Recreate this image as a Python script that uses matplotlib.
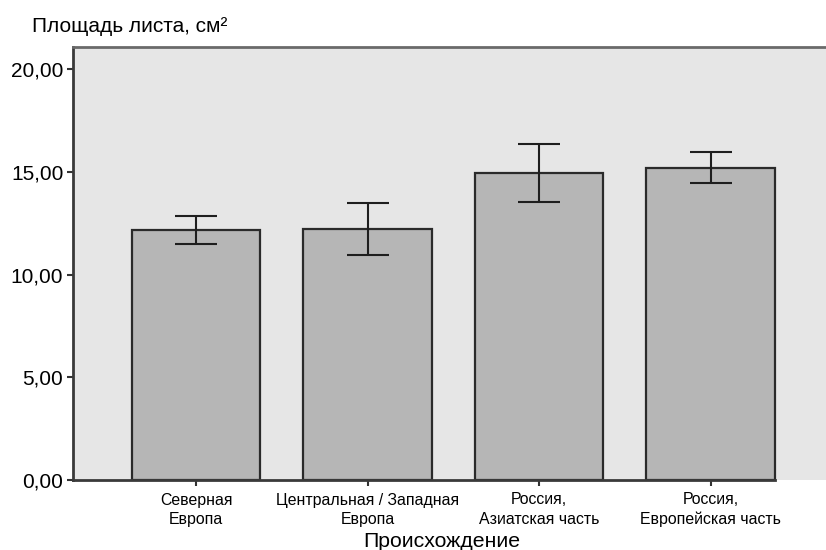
import matplotlib
matplotlib.use("Agg")
import matplotlib.pyplot as plt

plt.rcParams['font.family'] = ['Liberation Sans', 'DejaVu Sans']

categories = ["Северная\nЕвропа", "Центральная / Западная\nЕвропа",
              "Россия,\nАзиатская часть", "Россия,\nЕвропейская часть"]
means = [12.16, 12.21, 14.95, 15.21]
err_low = [11.48, 10.94, 13.54, 14.46]
err_high = [12.85, 13.47, 16.35, 15.97]
yticks = [0, 5, 10, 15, 20]
ytick_labels = ["0,00", "5,00", "10,00", "15,00", "20,00"]

W, H = 826, 550
fig = plt.figure(figsize=(W / 100, H / 100), dpi=100)
ax = fig.add_axes([73 / W, 1 - 480 / H, (W - 73) / W + 0.01, (480 - 47) / H])
ax.set_facecolor("#e6e6e6")

x = list(range(len(categories)))
yerr = [[m - lo for m, lo in zip(means, err_low)],
        [hi - m for m, hi in zip(means, err_high)]]
ax.bar(x, means, width=0.75, color="#b6b6b6", edgecolor="#2a2a2a",
       linewidth=1.6, zorder=2)
ax.errorbar(x, means, yerr=yerr, fmt="none", ecolor="#1e1e1e",
            elinewidth=1.5, capsize=15, capthick=1.5, zorder=3)

ax.set_xlim(-0.717, 3.72)
ax.set_ylim(0, 21.08)
ax.set_yticks(yticks)
ax.set_yticklabels(ytick_labels, fontsize=15)
ax.set_xticks(x)
ax.set_xticklabels(categories, fontsize=11.4, linespacing=1.35)
ax.tick_params(axis="y", length=4, width=1.5, color="#333333", pad=3)
ax.tick_params(axis="x", length=4, width=1.5, color="#333333", pad=5)

for side in ["left", "top", "bottom"]:
    ax.spines[side].set_color("#3a3a3a")
    ax.spines[side].set_linewidth(2)
ax.spines["right"].set_visible(False)
ax.spines["top"].set_color("#6a6a6a")
ax.spines["bottom"].set_bounds(-0.717, 3 + 0.375)

fig.text(32 / W, 1 - 32 / H, "Площадь листа, см²", fontsize=15,
         ha="left", va="baseline")
fig.text(442 / W, 1 - 547 / H, "Происхождение", fontsize=15.3,
         ha="center", va="baseline")

fig.savefig("out.png", dpi=100)
